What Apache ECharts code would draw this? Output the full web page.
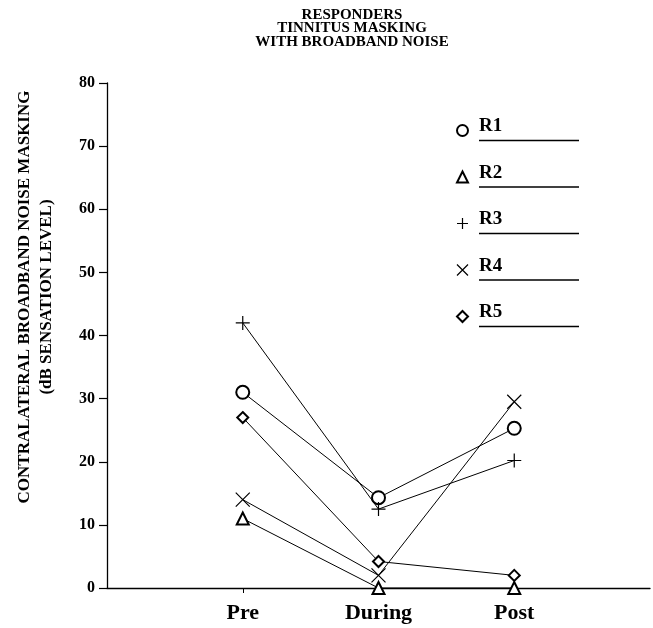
<!DOCTYPE html>
<html><head><meta charset="utf-8">
<script src="https://cdn.jsdelivr.net/npm/echarts@6/dist/echarts.min.js"></script>
<style>html,body{margin:0;padding:0;background:#fff}#c{width:653px;height:628px}</style>
</head><body><div id="c"></div>
<script>
var categories = ['Pre', 'During', 'Post'];
var seriesNames = ['R1', 'R2', 'R3', 'R4', 'R5'];
var r1 = [31, 14.3, 25.3];
var r2 = [11, 0, 0];
var r3 = [42, 12.5, 20.2];
var r4 = [14, 2, 29.5];
var r5 = [27, 4.2, 2];
var yTicks = [0, 10, 20, 30, 40, 50, 60, 70, 80];
var titleLines = ['RESPONDERS', 'TINNITUS MASKING', 'WITH BROADBAND NOISE'];
var yName1 = 'CONTRALATERAL BROADBAND NOISE MASKING';
var yName2 = '(dB SENSATION LEVEL)';

var FONT = 'Liberation Serif';
var plus = 'path://M0,-6L0,6M-6,0L6,0';
var cross = 'path://M-6,-6L6,6M-6,6L6,-6';
var symbols = ['emptyCircle', 'emptyTriangle', plus, cross, 'emptyDiamond'];
var sizes = [13, 12, 14, 14, 11];
var values = [r1, r2, r3, r4, r5];

var chart = echarts.init(document.getElementById('c'), null, {renderer: 'canvas'});
var series = seriesNames.map(function (n, i) {
  return {
    name: n, type: 'line',
    data: values[i].map(function (v, j) { return [j + 1, v]; }),
    symbol: symbols[i], symbolSize: sizes[i],
    showAllSymbol: true,
    lineStyle: {color: '#000', width: 1},
    itemStyle: {color: '#000', borderColor: '#000', borderWidth: 1.2},
    emphasis: {disabled: true},
    animation: false, z: 3
  };
});

chart.setOption({
  animation: false,
  backgroundColor: '#fff',
  title: {
    text: titleLines.join('\n'),
    left: 352, top: 8, textAlign: 'center', padding: 0,
    textStyle: {fontFamily: FONT, fontWeight: 'bold', fontSize: 15, lineHeight: 13.5, color: '#000'}
  },
  grid: {left: 107, right: 3, top: 83, bottom: 40, containLabel: false},
  legend: {
    orient: 'vertical', left: 451, top: 112, itemGap: 17,
    itemWidth: 11, itemHeight: 11,
    selectedMode: false,
    data: seriesNames.map(function (n, i) { return {name: n, icon: symbols[i]}; }),
    itemStyle: {color: '#000', borderColor: '#000', borderWidth: 1.2},
    formatter: function (n) { return '{s|}{n|' + n + '}\n{s|}{u|}'; },
    textStyle: {
      fontFamily: FONT, color: '#000',
      rich: {
        s: {width: 6, height: 1},
        n: {fontFamily: FONT, fontWeight: 'bold', fontSize: 19, lineHeight: 20, color: '#000'},
        u: {width: 100, height: 1.5, lineHeight: 8, backgroundColor: '#000'}
      }
    }
  },
  xAxis: {
    type: 'value', min: 0, max: 4, interval: 1,
    axisLine: {show: true, lineStyle: {color: '#000', width: 1.3}},
    axisTick: {show: true, customValues: [1, 2, 3], length: 5, lineStyle: {color: '#000', width: 1}},
    splitLine: {show: false},
    axisLabel: {
      margin: 14, color: '#000', fontFamily: FONT, fontWeight: 'bold', fontSize: 22,
      customValues: [1, 2, 3],
      formatter: function (v) { return categories[v - 1] || ''; }
    }
  },
  yAxis: {
    type: 'value', min: yTicks[0], max: yTicks[yTicks.length - 1], interval: 10,
    axisLine: {show: true, lineStyle: {color: '#000', width: 1.3}},
    axisTick: {show: true, length: 8, lineStyle: {color: '#000', width: 1.2}},
    splitLine: {show: false},
    axisLabel: {margin: 12, color: '#000', fontFamily: FONT, fontWeight: 'bold', fontSize: 16}
  },
  graphic: [
    {type: 'text', x: 16, y: 297, rotation: Math.PI / 2,
     style: {text: yName1, fontFamily: FONT, fontWeight: 'bold', fontSize: 17, fill: '#000', align: 'center', verticalAlign: 'top'}},
    {type: 'text', x: 38, y: 297, rotation: Math.PI / 2,
     style: {text: yName2, fontFamily: FONT, fontWeight: 'bold', fontSize: 17, fill: '#000', align: 'center', verticalAlign: 'top'}}
  ],
  series: series
});
</script></body></html>
